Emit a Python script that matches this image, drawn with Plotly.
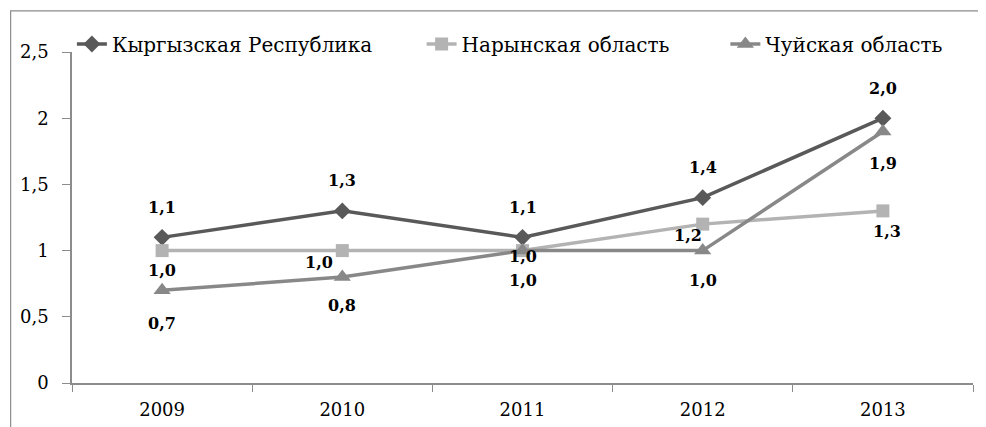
import plotly.graph_objects as go

years = ["2009", "2010", "2011", "2012", "2013"]
kyrgyz = [1.1, 1.3, 1.1, 1.4, 2.0]
naryn = [1.0, 1.0, 1.0, 1.2, 1.3]
chuy = [0.7, 0.8, 1.0, 1.0, 1.9]

names = ["Кыргызская Республика", "Нарынская область", "Чуйская область"]
y_ticks = [0, 0.5, 1, 1.5, 2, 2.5]
y_ticktext = ["0", "0,5", "1", "1,5", "2", "2,5"]

FONT = "DejaVu Serif"
AXIS_GRAY = "#8c8c8c"
NBSP = "\u00a0"

# label offsets (px) per point, picked by eye from the original
label_shift = {
    0: [(0, 30)] * 5,
    1: [(0, -20), (-23, -12), (0, -6), (-15, -11), (4, -21)],
    2: [(0, -33), (0, -28), (0, -30), (0, -30), (0, -32)],
}

series = [
    (kyrgyz, "#595959", "diamond", 13),
    (naryn, "#b3b3b3", "square", 13),
    (chuy, "#888888", "triangle-up", 15),
]
# trailing non-breaking spaces widen the legend entries like Excel's layout
legend_pad = [7, 8, 0]

fig = go.Figure()
for i, (vals, color, symbol, msize) in enumerate(series):
    fig.add_trace(go.Scatter(
        x=years,
        y=vals,
        mode="lines+markers",
        name=names[i] + NBSP * legend_pad[i],
        line=dict(color=color, width=3.5),
        marker=dict(color=color, symbol=symbol, size=msize),
    ))

# data labels; x given as category index so "2009" is not read as a number
for i, (vals, color, symbol, msize) in enumerate(series):
    for j, v in enumerate(vals):
        dx, dy = label_shift[i][j]
        fig.add_annotation(
            x=j, y=v, xshift=dx, yshift=dy,
            text="<b>" + f"{v:.1f}".replace(".", ",") + "</b>",
            showarrow=False,
            font=dict(family=FONT, size=16, color="black"),
        )

# outer chart frame (cut off at right and bottom in the original)
fig.add_shape(
    type="rect", xref="paper", yref="paper",
    x0=-61.5 / 903, x1=1.5, y0=-0.5, y1=1.124,
    line=dict(color="#8c8c8c", width=1.2),
)

# page body adds an 8px offset, so margins are shifted by that
fig.update_layout(
    width=986,
    height=427,
    plot_bgcolor="white",
    paper_bgcolor="white",
    font=dict(family=FONT, size=18, color="black"),
    margin=dict(l=62, r=21, t=44, b=52),
    legend=dict(
        orientation="h", yanchor="middle", y=1.024, xanchor="left", x=-0.0001,
        font=dict(family=FONT, size=20, color="black"),
        bgcolor="rgba(0,0,0,0)", borderwidth=0,
    ),
)

fig.update_xaxes(
    type="category",
    range=[-0.5, 4.5],
    showline=True, linecolor=AXIS_GRAY, linewidth=1.5,
    ticks="outside", tickson="boundaries", ticklen=7, tickcolor=AXIS_GRAY,
    ticklabelstandoff=10,
    showgrid=False,
    tickfont=dict(family=FONT, size=18),
)
fig.update_yaxes(
    range=[0, 2.5],
    tickvals=y_ticks, ticktext=y_ticktext,
    showline=True, linecolor=AXIS_GRAY, linewidth=1.5,
    ticks="outside", ticklen=8, tickcolor=AXIS_GRAY,
    ticklabelstandoff=10,
    showgrid=False, zeroline=False,
    tickfont=dict(family=FONT, size=18),
)

fig.write_html("out.html")
